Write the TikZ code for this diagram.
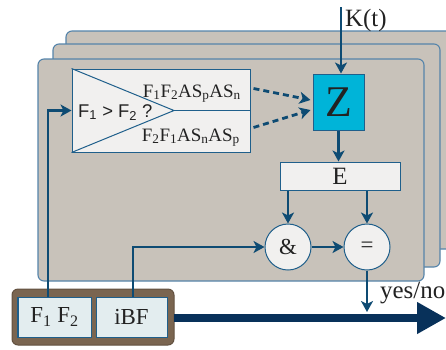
\documentclass[tikz,border=0pt]{standalone}
\usepackage{fontspec}
\setmainfont{Liberation Serif}
\newfontfamily\sansf{Liberation Sans}
\usetikzlibrary{arrows.meta}
\definecolor{panelfill}{HTML}{C8C2BA}
\definecolor{panelline}{HTML}{5584AA}
\definecolor{boxline}{HTML}{1F5F8B}
\definecolor{arrcol}{HTML}{0E4B73}
\definecolor{lightfill}{HTML}{F1F0EF}
\definecolor{zfill}{HTML}{00B4D8}
\definecolor{botfill}{HTML}{E3EDEF}
\definecolor{brown}{HTML}{7A6550}
\definecolor{bigarr}{HTML}{08315A}
\definecolor{txt}{HTML}{222222}
\tikzset{
  panel/.style={draw=panelline, fill=panelfill, line width=1.1bp, rounded corners=6bp},
  lbox/.style={draw=boxline, fill=lightfill, line width=1bp, inner sep=0pt, text=txt},
  bbox/.style={draw=boxline, fill=botfill, line width=1bp, inner sep=0pt, text=txt,
    minimum height=40bp, font=\fontsize{23}{23}\selectfont},
  cnode/.style={circle, draw=boxline, fill=lightfill, line width=1bp, minimum size=46bp,
    inner sep=0pt, text=txt, font=\fontsize{23}{23}\selectfont},
  arr/.style={draw=arrcol, line width=2.8bp, -{Stealth[length=11bp,width=12bp,inset=3bp]}},
  darr/.style={arr, dash pattern=on 6bp off 4bp},
  lbl/.style={text=txt, inner sep=0pt}
}
\begin{document}
\begin{tikzpicture}[x=1bp,y=-1bp]
\useasboundingbox (0,0) rectangle (446,349);
\clip (0,0) rectangle (446,349);
% panels
\draw[panel] (66,31) rectangle (470,249);
\draw[panel] (53,44) rectangle (440,267);
\draw[panel] (38,59) rectangle (424,281);
% decision box
\node[lbox, minimum width=178bp, minimum height=83bp] (dec) at (161,110.5) {};
\coordinate (apex) at (174,110.5);
\draw[boxline, line width=1bp] (dec.north west) -- (apex) -- (dec.south west);
\draw[boxline, line width=1bp] (apex) -- (dec.east);
\node[lbl, anchor=base west, font=\sansf\fontsize{18.5}{18.5}\selectfont] (q) at (78,117) {F\textsubscript{1} > F\textsubscript{2} ?};
\node[lbl, anchor=base east, font=\fontsize{19}{19}\selectfont] (o1) at (241,97) {F\textsubscript{1}F\textsubscript{2}AS\textsubscript{p}AS\textsubscript{n}};
\node[lbl, anchor=base east, font=\fontsize{19}{19}\selectfont] (o2) at (240,141) {F\textsubscript{2}F\textsubscript{1}AS\textsubscript{n}AS\textsubscript{p}};
% Z
\node[draw=boxline, fill=zfill, line width=1bp, minimum width=51bp, minimum height=56bp, inner sep=0pt,
  text=txt, font=\fontsize{44}{44}\selectfont] (Z) at (338.5,102) {Z};
% E
\node[lbox, minimum width=120bp, minimum height=28bp, font=\fontsize{25}{25}\selectfont] (E) at (340,176) {E};
% circles
\node[cnode] (and) at (288,247) {\&};
\node[cnode] (eq) at (367,247) {=};
% bottom box
\draw[draw=brown!80!black, fill=brown, line width=1bp, rounded corners=6bp] (12,289) rectangle (174,345);
\node[bbox, minimum width=73bp] (f12) at (54.5,317) {F\textsubscript{1} F\textsubscript{2}};
\node[bbox, minimum width=71bp] (ibf) at (131.5,317) {iBF};
\coordinate (botr) at (174,318);
% K(t)
\coordinate (ktop) at (341,7);
\node[lbl, anchor=base west, font=\fontsize{25}{25}\selectfont] (kt) at (345,26) {K(t)};
% connectors
\draw[arr] (ktop) -- (ktop |- Z.north);
\draw[arr] (Z.south) -- (Z.south |- E.north);
\draw[arr] (and.north |- E.south) -- (and.north);
\draw[arr] (eq.north |- E.south) -- (eq.north);
\draw[arr] (and.east) -- (eq.west);
\draw[arr] ([xshift=1.5bp]ibf.north) |- (and.west);
\draw[arr] ([xshift=-6.5bp]f12.north) |- (dec.west);
\coordinate (yn) at (367,312);
\draw[arr] (eq.south) -- (yn);
\node[lbl, anchor=base west, font=\fontsize{25}{25}\selectfont] (yesno) at (380,298) {yes/no};
\draw[darr] ([shift={(3,-22)}]dec.east) -- ([shift={(-2,-2)}]Z.west);
\draw[darr] ([shift={(3,17)}]dec.east) -- ([shift={(-2,8)}]Z.west);
% big arrow
\coordinate (bigend) at (446,318);
\draw[draw=bigarr, line width=8bp, -{Triangle[length=29bp,width=30bp]}] (botr) -- (bigend);
\end{tikzpicture}
\end{document}
